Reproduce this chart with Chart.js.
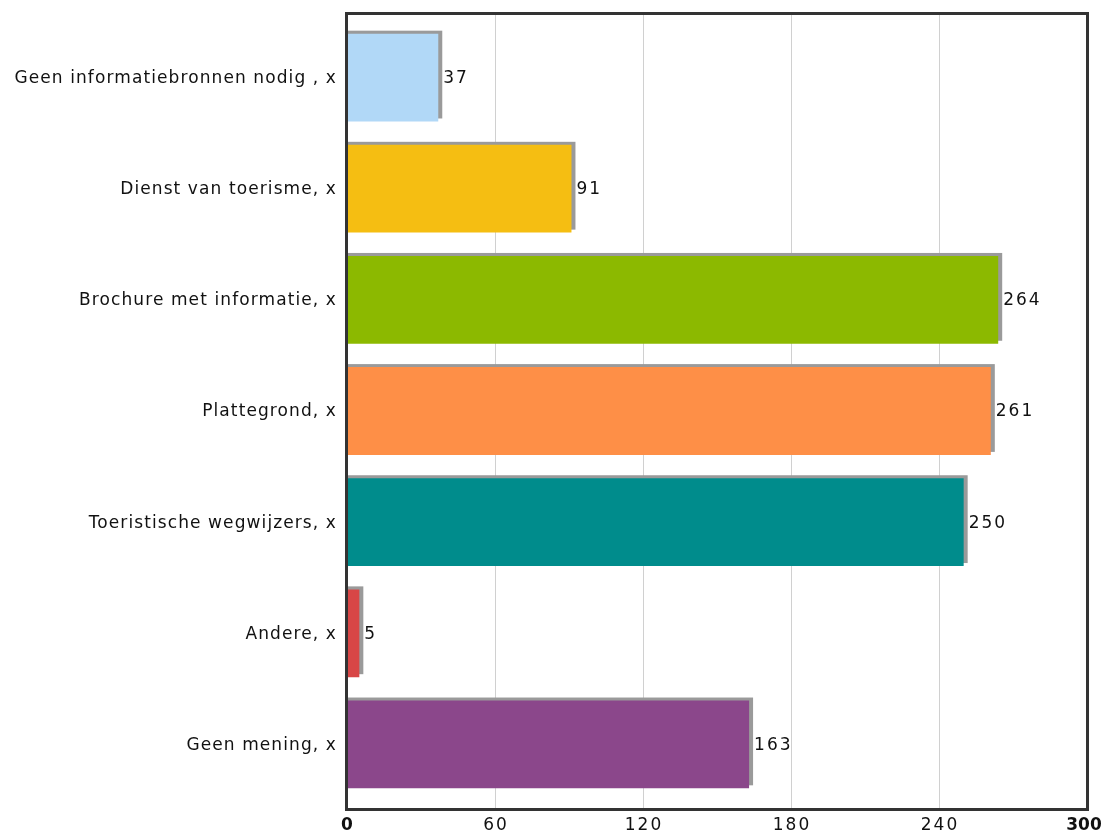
<!DOCTYPE html>
<html>
<head>
<meta charset="utf-8">
<script src="https://cdn.jsdelivr.net/npm/chart.js@4/dist/chart.umd.min.js"></script>
<style>
	html, body { margin: 0; padding: 0; background: #fff; }
	#wrap { width: 1109px; height: 837px; }
</style>
</head>
<body>
<div id="wrap"><canvas id="myChart" width="1109" height="837"></canvas></div>
<script>
var categories = ["Geen informatiebronnen nodig , x", "Dienst van toerisme, x", "Brochure met informatie, x",
	"Plattegrond, x", "Toeristische wegwijzers, x", "Andere, x", "Geen mening, x"];
var values = [37, 91, 264, 261, 250, 5, 163];
var barColors = ["#b1d8f7", "#f5be12", "#8cb900", "#fe8f47", "#008c8c", "#d84646", "#8b478b"];
var xTicks = [0, 60, 120, 180, 240, 300];

var FONT = "'DejaVu Sans', Verdana, sans-serif";

//grid, bar shadows below the bars; frame and all texts on top
var decor = {
	id: "decor",
	beforeDatasetsDraw: function(chart){
		var ctx = chart.ctx, area = chart.chartArea, x = chart.scales.x;
		var top = area.top - 8.5, bottom = area.bottom + 9.5;
		ctx.save();
		ctx.strokeStyle = "#d0d0d0";
		ctx.lineWidth = 1;
		xTicks.forEach(function(v){
			var px = Math.round(x.getPixelForValue(v)) + 0.5;
			ctx.beginPath();
			ctx.moveTo(px, top);
			ctx.lineTo(px, bottom);
			ctx.stroke();
		});
		ctx.fillStyle = "#9a9a9a";
		chart.getDatasetMeta(0).data.forEach(function(bar){
			var h = bar.height;
			ctx.fillRect(bar.base, bar.y - h / 2 - 3, bar.x - bar.base + 4, h);
		});
		ctx.restore();
	},
	afterDatasetsDraw: function(chart){
		var ctx = chart.ctx, area = chart.chartArea, x = chart.scales.x, y = chart.scales.y;
		var top = area.top - 8.5, bottom = area.bottom + 9.5;
		ctx.save();
		ctx.fillStyle = "#111";
		ctx.textBaseline = "middle";

		//values next to the bars
		ctx.font = "17px " + FONT;
		ctx.letterSpacing = "2px";
		ctx.textAlign = "left";
		chart.getDatasetMeta(0).data.forEach(function(bar, i){
			ctx.fillText(values[i], bar.x + 5, bar.y + 1);
		});

		//category labels
		ctx.letterSpacing = "1.1px";
		ctx.textAlign = "right";
		categories.forEach(function(c, i){
			ctx.fillText(c, area.left - 10, y.getPixelForValue(i) + 1);
		});

		//x tick labels, the ends in bold
		ctx.textAlign = "center";
		xTicks.forEach(function(v, i){
			var ends = (i == 0 || i == xTicks.length - 1);
			ctx.font = (ends ? "bold " : "") + "17px " + FONT;
			ctx.letterSpacing = ends ? "0px" : "2px";
			ctx.fillText(v, x.getPixelForValue(v) + (ends ? 0 : 1) - (i == xTicks.length - 1 ? 3 : 0), 826);
		});
		ctx.letterSpacing = "0px";

		ctx.strokeStyle = "#333";
		ctx.lineWidth = 3;
		ctx.strokeRect(area.left - 0.5, top, area.right - area.left + 1, bottom - top);
		ctx.restore();
	}
};

var ctx = document.getElementById("myChart").getContext("2d");
new Chart(ctx, {
	type: "bar",
	data: {
		labels: categories,
		datasets: [{
			data: values,
			backgroundColor: barColors,
			borderWidth: 0,
			categoryPercentage: 1,
			barPercentage: 0.79
		}]
	},
	options: {
		indexAxis: "y",
		responsive: false,
		animation: false,
		events: [],
		layout: { padding: { left: 0, top: 22, right: 22, bottom: 0 } },
		plugins: { legend: { display: false }, tooltip: { enabled: false } },
		scales: {
			x: {
				min: 0,
				max: 300,
				afterFit: function(s){ s.height = 37; s.paddingLeft = 0; s.paddingRight = 0; },
				grid: { display: false },
				border: { display: false },
				ticks: { display: false }
			},
			y: {
				afterFit: function(s){ s.width = 347; s.paddingTop = 0; s.paddingBottom = 0; },
				grid: { display: false },
				border: { display: false },
				ticks: { display: false }
			}
		}
	},
	plugins: [decor]
});
</script>
</body>
</html>
